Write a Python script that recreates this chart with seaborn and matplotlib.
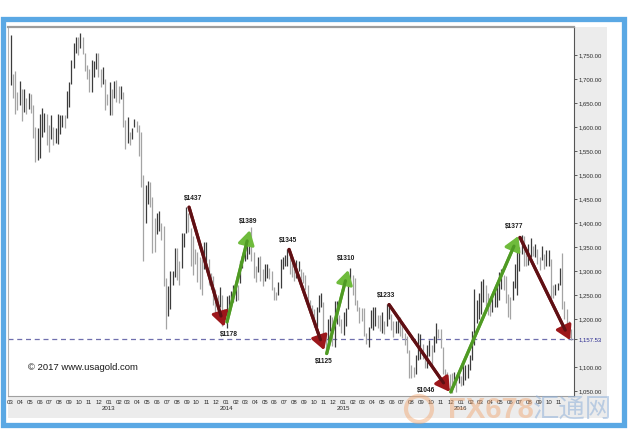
import numpy as np
import pandas as pd
import matplotlib
matplotlib.use('Agg')
import matplotlib.pyplot as plt
from matplotlib.patches import Rectangle, Ellipse
import seaborn as sns

sns.set_theme(style='white')
plt.rcParams['font.family'] = ['Liberation Sans', 'DejaVu Sans']

# ---------------- data: weekly gold highs / lows (USD/oz) ----------------
first_week = '2012-03-02'   # Friday of the first weekly bar

high_2012 = [1792, 1710, 1716, 1672, 1696, 1680, 1680, 1660, 1670, 1668,
             1645, 1600, 1597, 1628, 1640, 1630, 1628, 1605, 1625, 1600,
             1597, 1627, 1625, 1625, 1625, 1675, 1693, 1740, 1776, 1788,
             1788, 1796, 1788, 1755, 1730, 1720, 1740, 1738, 1755, 1754,
             1720, 1725, 1700, 1668, 1693]
low_2012 = [1688, 1660, 1627, 1636, 1645, 1612, 1631, 1628, 1637, 1630,
            1577, 1527, 1532, 1535, 1580, 1590, 1563, 1547, 1575, 1562,
            1566, 1565, 1585, 1600, 1598, 1618, 1642, 1690, 1723, 1755,
            1751, 1765, 1752, 1717, 1700, 1672, 1672, 1705, 1720, 1705,
            1683, 1690, 1636, 1645, 1625]

high_2013 = [1680, 1695, 1697, 1685, 1685, 1673, 1615, 1620, 1590, 1597,
             1616, 1612, 1605, 1590, 1500, 1480, 1488, 1485, 1455, 1410,
             1420, 1425, 1400, 1394, 1285, 1268, 1300, 1300, 1348, 1348,
             1320, 1380, 1380, 1434, 1420, 1390, 1372, 1345, 1340, 1330,
             1325, 1360, 1361, 1325, 1295, 1290, 1262, 1251, 1267, 1250,
             1220, 1248]
low_2013 = [1625, 1660, 1652, 1650, 1658, 1600, 1554, 1566, 1562, 1576,
            1600, 1590, 1540, 1476, 1321, 1400, 1440, 1434, 1338, 1340,
            1377, 1383, 1365, 1268, 1180, 1207, 1220, 1270, 1288, 1282,
            1270, 1307, 1350, 1380, 1382, 1310, 1292, 1315, 1277, 1262,
            1251, 1305, 1305, 1270, 1262, 1230, 1211, 1211, 1225, 1185,
            1190, 1182]

high_2014 = [1250, 1258, 1270, 1280, 1270, 1320, 1332, 1345, 1355, 1380,
             1392, 1340, 1310, 1330, 1331, 1305, 1315, 1315, 1306, 1300,
             1267, 1257, 1278, 1325, 1330, 1333, 1345, 1340, 1320, 1312,
             1322, 1320, 1305, 1297, 1292, 1270, 1240, 1230, 1220, 1225,
             1250, 1255, 1235, 1170, 1200, 1208, 1205, 1238, 1238, 1208,
             1200, 1215]
low_2014 = [1217, 1232, 1235, 1238, 1240, 1274, 1306, 1320, 1326, 1336,
            1320, 1285, 1277, 1297, 1280, 1268, 1280, 1285, 1284, 1260,
            1240, 1240, 1250, 1264, 1305, 1310, 1311, 1293, 1288, 1280,
            1285, 1300, 1273, 1275, 1260, 1227, 1212, 1205, 1183, 1183,
            1215, 1225, 1160, 1131, 1145, 1175, 1143, 1142, 1190, 1186,
            1170, 1167]

high_2015 = [1223, 1282, 1307, 1292, 1285, 1240, 1226, 1222, 1223, 1170,
             1183, 1219, 1224, 1224, 1209, 1208, 1215, 1195, 1232, 1232,
             1210, 1195, 1195, 1205, 1205, 1188, 1170, 1165, 1135, 1105,
             1100, 1125, 1170, 1169, 1148, 1125, 1145, 1157, 1146, 1165,
             1191, 1180, 1180, 1142, 1095, 1090, 1085, 1088, 1090, 1080,
             1085, 1082]
low_2015 = [1185, 1220, 1275, 1250, 1230, 1216, 1192, 1195, 1164, 1147,
            1142, 1182, 1177, 1185, 1182, 1174, 1170, 1169, 1185, 1200,
            1178, 1162, 1171, 1171, 1165, 1160, 1145, 1130, 1077, 1077,
            1080, 1086, 1115, 1117, 1117, 1098, 1098, 1122, 1105, 1132,
            1150, 1160, 1140, 1085, 1077, 1062, 1052, 1046, 1062, 1047,
            1066, 1060]

high_2016 = [1110, 1105, 1107, 1125, 1175, 1263, 1240, 1254, 1280, 1284,
             1270, 1255, 1243, 1245, 1263, 1270, 1297, 1305, 1291, 1289,
             1253, 1245, 1280, 1315, 1362, 1350, 1375, 1372, 1340, 1357,
             1368, 1353, 1357, 1346, 1330, 1352, 1335, 1343, 1343, 1325,
             1270, 1272, 1275, 1307, 1338, 1237, 1220, 1196, 1180]
low_2016 = [1062, 1072, 1077, 1093, 1115, 1145, 1191, 1200, 1210, 1236,
            1227, 1208, 1206, 1215, 1225, 1225, 1240, 1262, 1260, 1233,
            1205, 1200, 1240, 1265, 1250, 1300, 1335, 1310, 1310, 1312,
            1330, 1331, 1330, 1314, 1302, 1323, 1305, 1310, 1310, 1241,
            1243, 1250, 1260, 1271, 1220, 1201, 1171, 1160, 1157]

last_price = 1157.53
price_ticks = [1050, 1100, 1157.53, 1200, 1250, 1300, 1350, 1400, 1450,
               1500, 1550, 1600, 1650, 1700, 1750]

arrow_kind = ['down', 'up', 'down', 'up', 'down', 'up', 'down']
arrow_x0 = ['2013-09-08', '2014-01-04', '2014-07-16', '2014-11-10',
            '2015-05-23', '2015-12-01', '2016-07-03']
arrow_y0 = [1433, 1194, 1345, 1128, 1230, 1048, 1370]
arrow_x1 = ['2013-12-26', '2014-03-16', '2014-11-02', '2015-01-16',
            '2015-11-28', '2016-06-28', '2016-12-06']
arrow_y1 = [1184, 1385, 1135, 1302, 1048, 1373, 1156]

label_text = ['$1437', '$1178', '$1389', '$1345', '$1125', '$1310',
              '$1233', '$1046', '$1377']
label_x = ['2013-09-08', '2013-12-26', '2014-03-16', '2014-07-16',
           '2014-11-02', '2015-01-16', '2015-05-23', '2015-11-28',
           '2016-06-28']
label_y = [1433, 1184, 1385, 1345, 1135, 1302, 1230, 1048, 1373]
label_dx = [2.7, 3.6, -1.2, -0.7, 0.0, -1.7, -1.9, -17.3, -3.1]
label_dy = [6.0, -5.3, 6.5, 6.2, -8.4, 8.6, 6.3, 0.7, 6.7]

copyright_text = '\u00a9 2017 www.usagold.com'

# ---------------- assemble ----------------
highs = np.array(high_2012 + high_2013 + high_2014 + high_2015 + high_2016, float)
lows = np.array(low_2012 + low_2013 + low_2014 + low_2015 + low_2016, float)
weeks = pd.date_range(first_week, periods=len(highs), freq='W-FRI')
mid = (highs + lows) / 2
up = np.r_[True, mid[1:] >= mid[:-1]]
bar_colors = np.where(up, '#3c3c3c', '#a4a4a4')

W, H = 630, 446
fig = plt.figure(figsize=(W / 100, H / 100), dpi=100)
fig.patch.set_facecolor('white')

# light gray label band and blue frame
fig.add_artist(Rectangle((8 / W, (H - 418) / H), (607 - 8) / W, (418 - 27) / H,
                         transform=fig.transFigure, facecolor='#ececec',
                         edgecolor='none', zorder=0))
fig.add_artist(Rectangle((2.5 / W, (H - 425) / H), (623.5 - 2.5) / W, (425 - 19) / H,
                         transform=fig.transFigure, fill=False,
                         edgecolor='#5aa8e4', linewidth=3.8, zorder=5))

ax = fig.add_axes([8 / W, (H - 396) / H, (574 - 8) / W, (396 - 27) / H])
ax.set_facecolor('white')

ax.vlines(weeks, lows, highs, colors=bar_colors, linewidth=0.9, zorder=2)

ax.axhline(last_price, color='#6f6fae', linestyle=(0, (4, 3)), linewidth=0.9, zorder=1)

ax.set_xlim(pd.Timestamp('2012-02-23'), pd.Timestamp('2016-12-18'))
ax.set_ylim(1039.6, 1808.3)

# arrows
for kind, x0, y0, x1, y1 in zip(arrow_kind, arrow_x0, arrow_y0, arrow_x1, arrow_y1):
    if kind == 'down':
        head_c, shaft_c = '#9c171b', '#5e1014'
    else:
        head_c, shaft_c = '#6fbb3c', '#4f9a24'
    p0 = (pd.Timestamp(x0), y0)
    p1 = (pd.Timestamp(x1), y1)
    ax.annotate('', xy=p1, xytext=p0, zorder=4,
                arrowprops=dict(arrowstyle='-|>,head_length=0.85,head_width=0.5',
                                color=head_c, lw=2.2, shrinkA=0, shrinkB=0,
                                mutation_scale=10))
    ax.annotate('', xy=p1, xytext=p0, zorder=4,
                arrowprops=dict(arrowstyle='-', color=shaft_c, lw=2.3,
                                shrinkA=0, shrinkB=8))

for t, x, y, dx, dy in zip(label_text, label_x, label_y, label_dx, label_dy):
    ax.annotate(t, xy=(pd.Timestamp(x), y), xytext=(dx, dy),
                textcoords='offset points', ha='center', va='center',
                fontsize=4.8, fontweight='bold', color='#1e1e1e', zorder=6)

ax.text(0.0355, 0.078, copyright_text, transform=ax.transAxes,
        fontsize=6.8, color='#1a1a1a', va='center', ha='left')

# x axis: months, year under January
month_starts = pd.date_range('2012-03-01', '2016-11-01', freq='MS')
month_labels = [f'{d.month:02d}\n{d.year}' if d.month == 1 else f'{d.month:02d}'
                for d in month_starts]
ax.set_xticks(month_starts)
ax.set_xticklabels(month_labels, fontsize=4.4, color='#2a2a2a', linespacing=1.35)
ax.tick_params(axis='x', length=0, pad=2.6)

# y axis on the right
ax.yaxis.tick_right()
ax.set_yticks(price_ticks)
ax.set_yticklabels([f'{v:,.2f}' for v in price_ticks], fontsize=4.3, color='#2a2a2a')
ax.tick_params(axis='y', direction='out', length=2.5, width=0.6, color='#444444', pad=1)
for lbl, v in zip(ax.get_yticklabels(), price_ticks):
    if v == last_price:
        lbl.set_color('#2b2b90')

for side, c, lw in [('top', '#9c9c9c', 1.6), ('left', '#b4b4b4', 0.8),
                    ('right', '#555555', 0.8), ('bottom', '#a0a0a0', 0.8)]:
    ax.spines[side].set_visible(True)
    ax.spines[side].set_color(c)
    ax.spines[side].set_linewidth(lw)
ax.grid(False)

# faint watermark
fig.add_artist(Ellipse((419 / W, (H - 409) / H), 26 / W, 26 / H,
                       transform=fig.transFigure, fill=False,
                       edgecolor='#f2a46c', linewidth=3.0, alpha=0.45, zorder=7))
fig.text(448 / W, (H - 410) / H, 'FX678', fontsize=21, color='#f2a46c',
         alpha=0.45, ha='left', va='center', fontweight='bold', zorder=7)
fig.text(533 / W, (H - 410) / H, '汇通网', fontsize=19, color='#8fb0d8',
         alpha=0.55, ha='left', va='center', zorder=7,
         family=['Noto Sans CJK SC', 'DejaVu Sans'])

fig.savefig('out.png', dpi=100)
